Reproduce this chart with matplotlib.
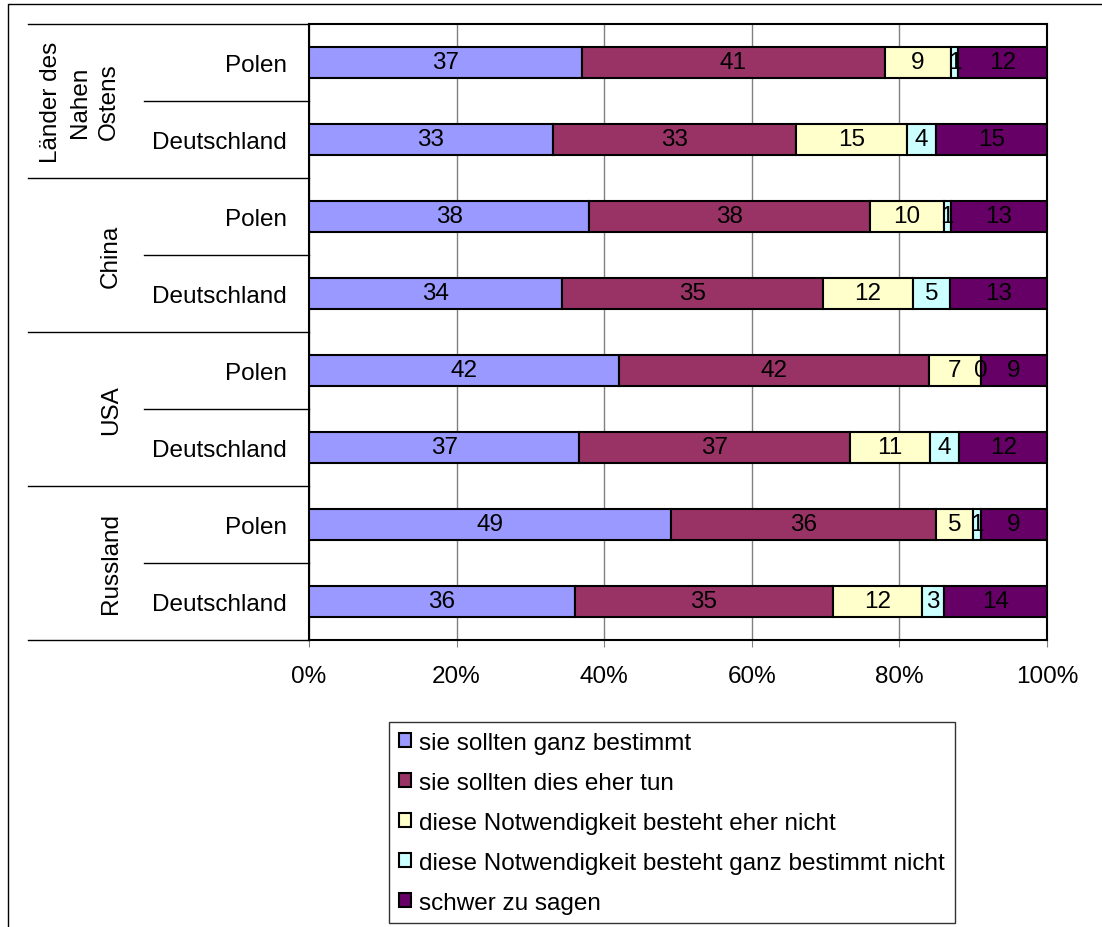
import numpy as np
import matplotlib.pyplot as plt
import matplotlib.transforms as mtransforms
from matplotlib.lines import Line2D

plt.rcParams['font.family'] = ['Liberation Sans', 'DejaVu Sans']

# groups (top to bottom) and sub-categories
groups = ["Länder des\nNahen\nOstens", "China", "USA", "Russland"]
subcats = ["Polen", "Deutschland"]

series_names = [
    "sie sollten ganz bestimmt",
    "sie sollten dies eher tun",
    "diese Notwendigkeit besteht eher nicht",
    "diese Notwendigkeit besteht ganz bestimmt nicht",
    "schwer zu sagen",
]
colors = ["#9999FF", "#993366", "#FFFFCC", "#CCFFFF", "#660066"]

# rows in order: group1 Polen, group1 Deutschland, group2 Polen, ...
ganz_bestimmt = [37, 33, 38, 34, 42, 37, 49, 36]
eher_tun = [41, 33, 38, 35, 42, 37, 36, 35]
eher_nicht = [9, 15, 10, 12, 7, 11, 5, 12]
bestimmt_nicht = [1, 4, 1, 5, 0, 4, 1, 3]
schwer = [12, 15, 13, 13, 9, 12, 9, 14]

xticks = [0, 20, 40, 60, 80, 100]
xticklabels = ["0%", "20%", "40%", "60%", "80%", "100%"]

FS = 17.5
W, H = 1102, 928
fig = plt.figure(figsize=(W / 100, H / 100), dpi=100)
ax = fig.add_axes([309 / W, 1 - 641 / H, 738 / W, 616 / H])

vals = np.array([ganz_bestimmt, eher_tun, eher_nicht, bestimmt_nicht, schwer], dtype=float)
totals = vals.sum(axis=0)
pct = vals / totals * 100
n = vals.shape[1]
ypos = np.arange(n)

left = np.zeros(n)
for i in range(len(series_names)):
    ax.barh(ypos, pct[i], left=left, height=0.4, color=colors[i],
            edgecolor="black", linewidth=1.5, label=series_names[i], zorder=3)
    for j in range(n):
        ax.text(left[j] + pct[i][j] / 2, ypos[j], "%d" % vals[i][j],
                ha="center", va="center", fontsize=FS, color="black", zorder=4)
    left = left + pct[i]

ax.set_xlim(0, 100)
ax.set_ylim(n - 0.5, -0.5)
ax.set_xticks(xticks)
ax.set_xticklabels(xticklabels, fontsize=FS)
ax.tick_params(axis="x", length=5, color="#808080", pad=13)
ax.set_yticks(ypos)
ax.set_yticklabels(subcats * len(groups), fontsize=FS)
ax.tick_params(axis="y", length=0, pad=16)
ax.grid(axis="x", color="#808080", linewidth=1, zorder=0)
ax.set_axisbelow(True)
for s in ax.spines.values():
    s.set_color("black")
    s.set_linewidth(1.5)

# category separator lines in label area
tr = mtransforms.blended_transform_factory(fig.transFigure, ax.transData)
for g in range(len(groups) + 1):
    y = g * 2 - 0.5
    fig.add_artist(Line2D([28 / W, 309 / W], [y, y], transform=tr, color="black", lw=1))
for g in range(len(groups)):
    y = g * 2 + 0.5
    fig.add_artist(Line2D([144 / W, 309 / W], [y, y], transform=tr, color="black", lw=1))

# group labels
for g, name in enumerate(groups):
    xg = 80 if "\n" in name else 111
    fig.text(xg / W, g * 2 + 0.5, name, transform=tr, rotation=90,
             ha="center", va="center", fontsize=FS, multialignment="center",
             linespacing=1.4)

# outer frame
fig.add_artist(Line2D([8 / W, 8 / W, 1.0], [0.0, 1 - 5 / H, 1 - 5 / H],
                      transform=fig.transFigure, color="black", lw=1))

leg = fig.legend(loc="upper left", bbox_to_anchor=(389 / W, 1 - 723 / H),
                 bbox_transform=fig.transFigure, fontsize=FS, frameon=True,
                 fancybox=False, edgecolor="black", handlelength=0.5,
                 handleheight=0.5, handletextpad=0.35, labelspacing=0.74,
                 borderpad=0.4, borderaxespad=0)
leg.get_frame().set_linewidth(1)

fig.savefig("out.png", dpi=100)
